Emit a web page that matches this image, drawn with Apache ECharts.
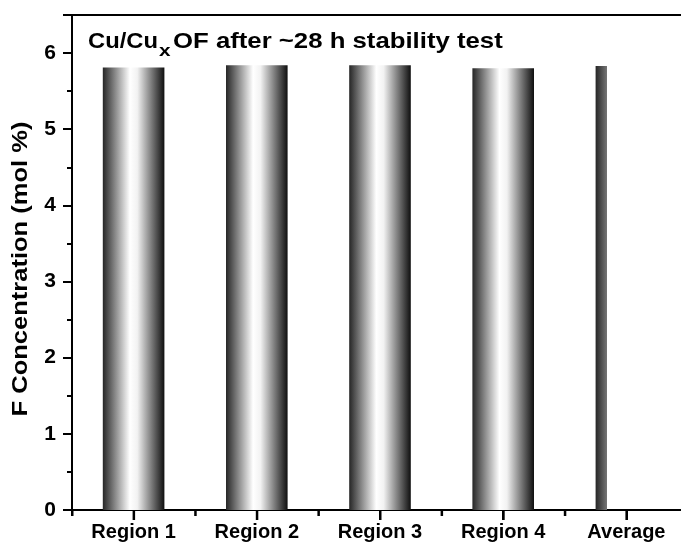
<!DOCTYPE html>
<html>
<head>
<meta charset="utf-8">
<script src="https://cdn.jsdelivr.net/npm/echarts@6/dist/echarts.min.js"></script>
<style>
html,body{margin:0;padding:0;background:#fff;}
#chart{width:681px;height:548px;}
</style>
</head>
<body>
<div id="chart"></div>
<script>
const categories = ['Region 1', 'Region 2', 'Region 3', 'Region 4', 'Average'];
const fConcentration = [5.81, 5.84, 5.84, 5.80, 5.83];
const yTicks = [0, 1, 2, 3, 4, 5, 6];
const titleParts = ['Cu/Cu', 'x', 'OF after ~28 h stability test'];
const yName = 'F Concentration (mol %)';

const FONT = 'Liberation Sans, Arial, sans-serif';

function barGradient(cut) {
  const stops = [
    {offset: 0, color: '#262626'},
    {offset: 0.44, color: '#ffffff'},
    {offset: 0.56, color: '#f2f2f2'},
    {offset: 1, color: '#0f0f0f'}
  ];
  if (cut == null) return {type: 'linear', x: 0, y: 0, x2: 1, y2: 0, colorStops: stops};
  return {type: 'linear', x: 0, y: 0, x2: 1, y2: 0, colorStops: [
    {offset: 0, color: '#262626'},
    {offset: cut, color: '#787878'},
    {offset: cut + 0.0001, color: 'rgba(255,255,255,0)'},
    {offset: 1, color: 'rgba(255,255,255,0)'}
  ]};
}

// Category-axis ticks: long at each category centre, short at band boundaries,
// positioned through the axis scale (api.coord / api.size).
function renderTicks(params, api) {
  const idx = api.value(0);
  const p = api.coord([idx, 0]);
  const band = api.size([1, 0])[0];
  const ls = {stroke: '#000000', lineWidth: 2.5, opacity: 1};
  const children = [
    {type: 'rect', shape: {x: p[0] - 1, y: p[1], width: 2.5, height: 10}, style: {fill: '#000'}},
    {type: 'rect', shape: {x: p[0] - band / 2 - 1, y: p[1], width: 2.5, height: 6}, style: {fill: '#000'}}
  ];
  if (idx === categories.length - 1) {
    children.push({type: 'rect', shape: {x: p[0] + band / 2 - 1, y: p[1], width: 2.5, height: 6}, style: {fill: '#000'}});
  }
  return {type: 'group', children: children};
}

const chart = echarts.init(document.getElementById('chart'), null, {renderer: 'canvas'});
chart.setOption({
  animation: false,
  backgroundColor: '#ffffff',
  grid: {left: 72, top: 15, width: 616, bottom: 38, outerBoundsMode: 'none', containLabel: false,
    show: true, borderColor: '#000', borderWidth: 2, backgroundColor: 'transparent'},
  graphic: [
    {type: 'text', x: 88, y: 53, scaleX: 1.08, style: {text: titleParts[0], fill: '#000', font: 'bold 22px ' + FONT, textAlign: 'left', textVerticalAlign: 'bottom', verticalAlign: 'bottom'}},
    {type: 'text', x: 159, y: 60, scaleX: 1.3, style: {text: titleParts[1], fill: '#000', font: 'bold 16px ' + FONT, textAlign: 'left', textVerticalAlign: 'bottom', verticalAlign: 'bottom'}},
    {type: 'text', x: 173, y: 53, scaleX: 1.17, style: {text: titleParts[2], fill: '#000', font: 'bold 22px ' + FONT, textAlign: 'left', textVerticalAlign: 'bottom', verticalAlign: 'bottom'}},
    {type: 'text', x: 21, y: 269, rotation: Math.PI / 2, scaleX: 1.16, style: {text: yName, fill: '#000', font: 'bold 22px ' + FONT, textAlign: 'center', textVerticalAlign: 'middle', verticalAlign: 'middle'}}
  ],
  xAxis: {
    type: 'category',
    data: categories,
    axisLine: {show: true, onZero: false, lineStyle: {color: '#000', width: 2}},
    axisTick: {show: true, inside: false, interval: 0, alignWithLabel: true, length: 10, lineStyle: {color: '#000', width: 2}},
    axisLabel: {show: true, interval: 0, color: '#000', fontFamily: FONT, fontWeight: 'bold', fontSize: 20, margin: 12},
    splitLine: {show: false}
  },
  yAxis: {
    type: 'value',
    min: 0, max: 6.5, interval: 1,
    axisLine: {show: true, lineStyle: {color: '#000', width: 2}},
    axisTick: {show: true, length: 9, lineStyle: {color: '#000', width: 2}},
    minorTick: {show: true, splitNumber: 2, length: 5, lineStyle: {color: '#000', width: 2}},
    axisLabel: {color: '#000', fontFamily: FONT, fontWeight: 'bold', fontSize: 21, margin: 16,
      formatter: function (v) { return yTicks.indexOf(v) >= 0 ? String(v) : ''; }},
    splitLine: {show: false}
  },
  series: [{
    type: 'bar',
    barWidth: '50%',
    data: fConcentration.map(function (v, i) {
      return {value: v, itemStyle: {color: barGradient(i === categories.length - 1 ? 0.19 : null)}};
    })
  }, {
    type: 'custom',
    clip: false,
    silent: true,
    renderItem: renderTicks,
    encode: {x: 0},
    data: categories.map(function (c, i) { return [i]; }),
    z: 10
  }]
});
</script>
</body>
</html>
